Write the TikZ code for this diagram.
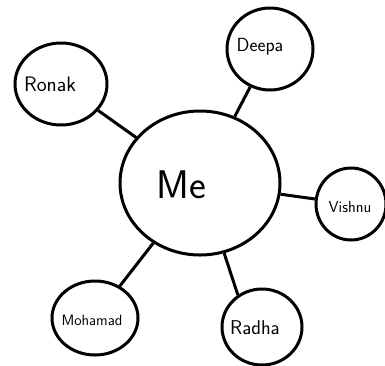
\documentclass[tikz,border=0pt]{standalone}
\usepackage{tikz}
\usetikzlibrary{shapes.geometric, positioning}

\begin{document}
\begin{tikzpicture}[x=1pt, y=-1pt,
    bubble/.style={draw, ellipse, line width=3pt, inner sep=0pt},
    friendname/.style={font=\sffamily\fontsize{19}{21}\selectfont},
    link/.style={line width=3pt}]
  \useasboundingbox (0,0) rectangle (385,365);

  % Centre
  \node[bubble, minimum width=160pt, minimum height=144pt] (me) at (200,183) {};
  \node[font=\sffamily\fontsize{40}{42}\selectfont] (metext) at (181,185) {Me};

  % Friends around it
  \node[bubble, minimum width=92pt, minimum height=82pt] (ronak) at (61,84) {};
  \node[friendname, font=\sffamily\fontsize{21}{23}\selectfont] (ronaktext) at (50,84) {Ronak};
  \node[bubble, minimum width=86pt, minimum height=82pt] (deepa) at (270,49) {};
  \node[friendname] (deepatext) at (260,47) {Deepa};
  \node[bubble, minimum width=70pt, minimum height=72pt] (vishnu) at (351,204) {};
  \node[friendname, font=\sffamily\fontsize{16}{18}\selectfont] (vishnutext) at (350,207) {Vishnu};
  \node[bubble, minimum width=86pt, minimum height=74pt] (mohamad) at (95,318) {};
  \node[friendname, font=\sffamily\fontsize{15}{17}\selectfont] (mohamadtext) at (92,320) {Mohamad};
  \node[bubble, minimum width=80pt, minimum height=76pt] (radha) at (262,327) {};
  \node[friendname, font=\sffamily\fontsize{20}{22}\selectfont] (radhatext) at (255,328) {Radha};

  % Spokes
  \draw[link] (me) -- (ronak);
  \draw[link] (me) -- (deepa);
  \draw[link] (me) -- (vishnu);
  \draw[link] (me) -- (mohamad);
  \draw[link] (me.-71) -- (radha.127);
\end{tikzpicture}
\end{document}
